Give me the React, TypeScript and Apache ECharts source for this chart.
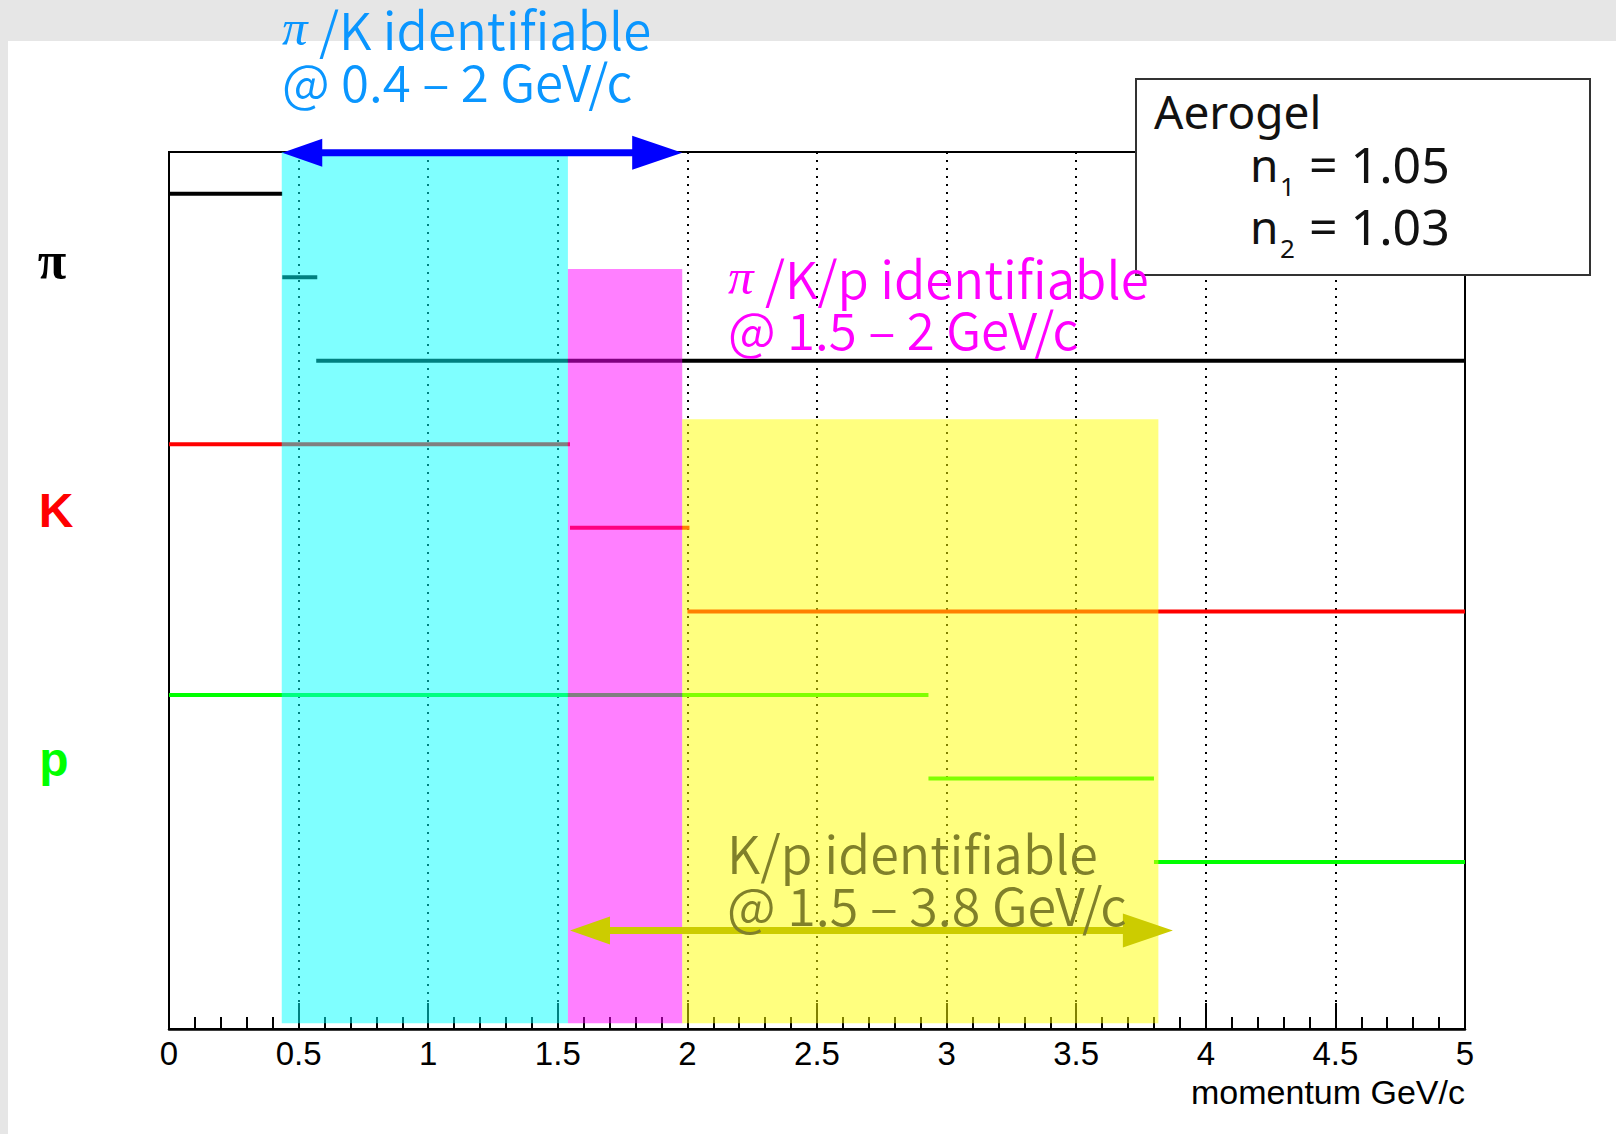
import React, { useEffect, useRef } from "react";
import * as echarts from "echarts";

// ---------- data ----------
const xTickLabels = ["0", "0.5", "1", "1.5", "2", "2.5", "3", "3.5", "4", "4.5", "5"];
const xMin = 0;
const xMax = 5;
const xStep = 0.5;
const yMin = 0;
const yMax = 10.5;

// threshold segments: [momentum start, momentum end, level]
const pionSegments = [
  [0, 0.437, 10],
  [0.437, 0.572, 9],
  [0.568, 5, 8],
];
const kaonSegments = [
  [0, 1.547, 7],
  [1.547, 2.008, 6],
  [2.0, 5, 5],
];
const protonSegments = [
  [0, 2.93, 4],
  [2.93, 3.8, 3],
  [3.8, 5, 2],
];

// identification bands: [start, end, top level]
const bandStarts = [0.435, 1.539, 1.98];
const bandEnds = [1.539, 1.98, 3.817];
const bandTops = [10.5, 9.1, 7.3];
const bandBottom = 0.07;

// range arrows: [start, end, level]
const arrowStarts = [0.437, 1.547];
const arrowEnds = [1.98, 3.873];
const arrowLevels = [10.49, 1.18];

// ---------- styles ----------
const pionColor = "#000000";
const kaonColor = "#ff0000";
const protonColor = "#00ff00";
const bandColors = ["rgba(0,255,255,0.5)", "rgba(255,0,255,0.5)", "rgba(255,255,0,0.5)"];
const arrowColors = ["#0000ff", "#cccc00"];
const blueText = "#0a96ff";
const magentaText = "#ff00ff";
const oliveText = "#80802a";
const annFont = "'Noto Sans CJK JP', 'Noto Sans', sans-serif";

function segmentSeries(name: string, segs: number[][], color: string) {
  return {
    name,
    type: "custom",
    z: 2,
    clip: false,
    encode: { x: [0, 1], y: 2 },
    data: segs,
    renderItem: (_p: any, api: any) => {
      const a = api.coord([api.value(0), api.value(2)]);
      const b = api.coord([api.value(1), api.value(2)]);
      return {
        type: "line",
        shape: { x1: a[0], y1: a[1], x2: b[0], y2: b[1] },
        style: { stroke: color, lineWidth: 4 },
      };
    },
  };
}

const bandData = bandStarts.map((s, i) => [s, bandEnds[i], bandTops[i]]);
const arrowData = arrowStarts.map((s, i) => [s, arrowEnds[i], arrowLevels[i]]);

function annText(x: number, y: number, text: string, color: string, size: number, lh: number) {
  return {
    type: "text",
    x,
    y,
    z: 100,
    style: {
      text,
      fill: color,
      fontSize: size,
      fontWeight: 350,
      fontFamily: annFont,
      lineHeight: lh,
      align: "left",
      verticalAlign: "middle",
      rich: {
        pi: {
          fontFamily: "'Liberation Serif', serif",
          fontStyle: "italic",
          fontSize: size,
          lineHeight: lh,
          fill: color,
        },
      },
    },
  };
}

const sans = "'Liberation Sans', Arial, sans-serif";
const noto = "'Noto Sans', sans-serif";

export default function App() {
  const ref = useRef<HTMLDivElement>(null);
  useEffect(() => {
    const chart = echarts.init(ref.current!, null, { renderer: "svg" });
    const option: any = {
      animation: false,
      backgroundColor: "transparent",
      grid: {
        left: 169,
        right: 151,
        top: 152,
        bottom: 105,
        show: true,
        borderColor: "#000",
        borderWidth: 2,
        backgroundColor: "transparent",
        containLabel: false,
      },
      xAxis: {
        type: "value",
        min: xMin,
        max: xMax,
        interval: xStep,
        axisLine: { show: true, lineStyle: { color: "#000", width: 2.5 } },
        axisTick: { show: true, inside: true, length: 26, lineStyle: { color: "#000", width: 2 } },
        minorTick: { show: true, splitNumber: 5, length: 12, lineStyle: { color: "#000", width: 2 } },
        splitLine: { show: true, lineStyle: { color: "#000", width: 2, type: [2, 6] } },
        axisLabel: {
          margin: 8,
          fontSize: 33,
          fontFamily: sans,
          color: "#000",
          formatter: (v: number) => xTickLabels[Math.round((v - xMin) / xStep)] ?? "",
        },
      },
      yAxis: {
        type: "value",
        min: yMin,
        max: yMax,
        axisLine: { show: true, lineStyle: { color: "#000", width: 2 } },
        axisTick: { show: false },
        axisLabel: { show: false },
        splitLine: { show: false },
      },
      series: [
        segmentSeries("pi", pionSegments, pionColor),
        segmentSeries("K", kaonSegments, kaonColor),
        segmentSeries("p", protonSegments, protonColor),
        {
          name: "bands",
          type: "custom",
          z: 3,
          clip: false,
          encode: { x: [0, 1], y: 2 },
          data: bandData,
          renderItem: (p: any, api: any) => {
            const a = api.coord([api.value(0), api.value(2)]);
            const b = api.coord([api.value(1), bandBottom]);
            return {
              type: "rect",
              shape: { x: a[0], y: a[1], width: b[0] - a[0], height: b[1] - a[1] },
              style: { fill: bandColors[p.dataIndex] },
            };
          },
        },
        {
          name: "arrows",
          type: "custom",
          z: 4,
          clip: false,
          encode: { x: [0, 1], y: 2 },
          data: arrowData,
          renderItem: (p: any, api: any) => {
            const a = api.coord([api.value(0), api.value(2)]);
            const b = api.coord([api.value(1), api.value(2)]);
            const c = arrowColors[p.dataIndex];
            const lh = 40, lw = 14, rh = 50, rw = 17;
            const y = a[1];
            return {
              type: "group",
              children: [
                {
                  type: "line",
                  shape: { x1: a[0] + lh - 2, y1: y, x2: b[0] - rh + 2, y2: y },
                  style: { stroke: c, lineWidth: 7 },
                },
                {
                  type: "polygon",
                  shape: { points: [[a[0], y], [a[0] + lh, y - lw], [a[0] + lh, y + lw]] },
                  style: { fill: c },
                },
                {
                  type: "polygon",
                  shape: { points: [[b[0], y], [b[0] - rh, y - rw], [b[0] - rh, y + rw]] },
                  style: { fill: c },
                },
              ],
            };
          },
        },
      ],
      graphic: {
        elements: [
          // particle labels
          {
            type: "text", x: 52, y: 260, z: 100,
            style: { text: "π", fill: "#000", fontSize: 52, fontWeight: "bold", fontFamily: "'Liberation Serif', serif", align: "center", verticalAlign: "middle" },
          },
          {
            type: "text", x: 56, y: 510, z: 100,
            style: { text: "K", fill: kaonColor, fontSize: 48, fontWeight: "bold", fontFamily: sans, align: "center", verticalAlign: "middle" },
          },
          {
            type: "text", x: 54, y: 759, z: 100,
            style: { text: "p", fill: protonColor, fontSize: 48, fontWeight: "bold", fontFamily: sans, align: "center", verticalAlign: "middle" },
          },
          // axis title
          {
            type: "text", x: 1465, y: 1092, z: 100,
            style: { text: "momentum GeV/c", fill: "#000", fontSize: 34, fontFamily: sans, align: "right", verticalAlign: "middle" },
          },
          // Aerogel box
          {
            type: "rect", z: 90,
            shape: { x: 1136, y: 79, width: 454, height: 196 },
            style: { fill: "#fff", stroke: "#333", lineWidth: 2 },
          },
          {
            type: "text", x: 1154, y: 111, z: 100,
            style: { text: "Aerogel", fill: "#111", fontSize: 46, fontFamily: noto, align: "left", verticalAlign: "middle" },
          },
          {
            type: "text", x: 1250, y: 164, z: 100,
            style: { text: "n", fill: "#111", fontSize: 46, fontFamily: noto, align: "left", verticalAlign: "middle" },
          },
          {
            type: "text", x: 1280, y: 186, z: 100,
            style: { text: "1", fill: "#111", fontSize: 26, fontFamily: noto, align: "left", verticalAlign: "middle" },
          },
          {
            type: "text", x: 1309, y: 164, z: 100,
            style: { text: "= 1.05", fill: "#111", fontSize: 50, fontFamily: noto, align: "left", verticalAlign: "middle" },
          },
          {
            type: "text", x: 1250, y: 226, z: 100,
            style: { text: "n", fill: "#111", fontSize: 46, fontFamily: noto, align: "left", verticalAlign: "middle" },
          },
          {
            type: "text", x: 1280, y: 248, z: 100,
            style: { text: "2", fill: "#111", fontSize: 26, fontFamily: noto, align: "left", verticalAlign: "middle" },
          },
          {
            type: "text", x: 1309, y: 226, z: 100,
            style: { text: "= 1.03", fill: "#111", fontSize: 50, fontFamily: noto, align: "left", verticalAlign: "middle" },
          },
          // annotations
          annText(282, 54, "{pi|π} /K identifiable\n@ 0.4 – 2 GeV/c", blueText, 51, 52),
          annText(728, 302, "{pi|π} /K/p identifiable\n@ 1.5 – 2 GeV/c", magentaText, 51, 51),
          annText(727, 877, "K/p identifiable\n@ 1.5 – 3.8 GeV/c", oliveText, 52, 52),
        ],
      },
    };
    chart.setOption(option);
    return () => chart.dispose();
  }, []);
  return (
    <div style={{ position: "fixed", left: 0, top: 0, width: 1616, height: 1134, background: "#e6e6e6", overflow: "hidden" }}>
      <div style={{ position: "absolute", left: 8, top: 41, right: 0, bottom: 0, background: "#ffffff" }} />
      <div ref={ref} style={{ position: "absolute", left: 0, top: 0, width: 1616, height: 1134 }} />
    </div>
  );
}
